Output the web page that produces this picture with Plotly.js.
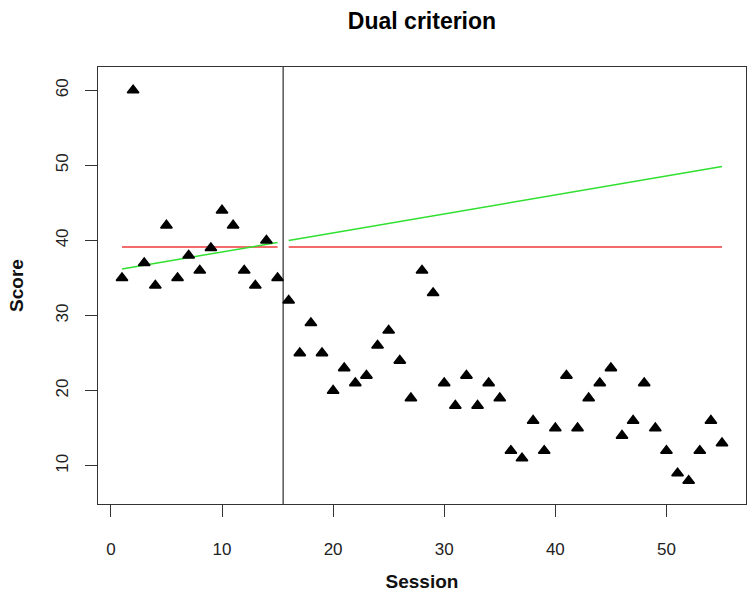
<!DOCTYPE html>
<html>
<head>
<meta charset="utf-8">
<script src="https://cdn.plot.ly/plotly-3.0.1.min.js"></script>
<style>
  html, body { margin: 0; padding: 0; background: #ffffff; }
  #chart { width: 748px; height: 596px; }
</style>
</head>
<body>
<div id="chart"></div>
<script>
// Session numbers and observed scores (baseline: sessions 1-15, treatment: 16-55)
const sessions = [1, 2, 3, 4, 5, 6, 7, 8, 9, 10, 11, 12, 13, 14, 15,
  16, 17, 18, 19, 20, 21, 22, 23, 24, 25, 26, 27, 28, 29, 30,
  31, 32, 33, 34, 35, 36, 37, 38, 39, 40, 41, 42, 43, 44, 45,
  46, 47, 48, 49, 50, 51, 52, 53, 54, 55];
const scores = [35, 60, 37, 34, 42, 35, 38, 36, 39, 44, 42, 36, 34, 40, 35,
  32, 25, 29, 25, 20, 23, 21, 22, 26, 28, 24, 19, 36, 33, 21,
  18, 22, 18, 21, 19, 12, 11, 16, 12, 15, 22, 15, 19, 21, 23,
  14, 16, 21, 15, 12, 9, 8, 12, 16, 13];

// Phase change between the last baseline and first treatment session
const phaseChange = 15.5;

// Baseline mean level, drawn across each phase
const meanBaseX = [1, 15];
const meanBaseY = [39.13, 39.13];
const meanTreatX = [16, 55];
const meanTreatY = [39.13, 39.13];

// Baseline trend line and its projection into the treatment phase
const trendBaseX = [1, 15];
const trendBaseY = [36.2, 39.73];
const trendTreatX = [16, 55];
const trendTreatY = [39.98, 49.85];

// Axis ticks
const xTicks = [0, 10, 20, 30, 40, 50];
const yTicks = [10, 20, 30, 40, 50, 60];

const FONT = '"Liberation Sans", Arial, Helvetica, sans-serif';

const lineTrace = (x, y, color) => ({
  x: x, y: y, type: 'scatter', mode: 'lines',
  line: { color: color, width: 1.5 },
  hoverinfo: 'skip', showlegend: false
});

const traces = [
  lineTrace(meanBaseX, meanBaseY, '#f03a3a'),
  lineTrace(meanTreatX, meanTreatY, '#f03a3a'),
  lineTrace(trendBaseX, trendBaseY, '#2fe02f'),
  lineTrace(trendTreatX, trendTreatY, '#2fe02f'),
  {
    x: sessions, y: scores, type: 'scatter', mode: 'markers',
    marker: { symbol: 'triangle-up', size: 10, color: '#000000',
              line: { color: '#000000', width: 1.6 } },
    showlegend: false
  }
];

const layout = {
  width: 748, height: 596,
  margin: { l: 98, r: 2, t: 67, b: 92 },
  paper_bgcolor: '#ffffff', plot_bgcolor: '#ffffff',
  font: { family: FONT, color: '#111111', size: 17 },
  showlegend: false,
  title: {
    text: '<b>Dual criterion</b>',
    font: { family: FONT, size: 23, color: '#000000' },
    x: 0.5, xref: 'paper', xanchor: 'center',
    y: 1 - 21 / 596, yref: 'container', yanchor: 'middle'
  },
  xaxis: {
    range: [-1.16, 57.16], tickmode: 'array', tickvals: xTicks,
    ticks: 'outside', ticklen: 12, tickwidth: 1, tickcolor: '#333333',
    showline: true, mirror: true, linecolor: '#333333', linewidth: 1,
    showgrid: false, zeroline: false,
    tickfont: { family: FONT, size: 17, color: '#222222' },
    ticklabelstandoff: 18,
    title: { text: '<b>Session</b>', font: { family: FONT, size: 19, color: '#111111' }, standoff: 16 }
  },
  yaxis: {
    range: [4.9, 63.1], tickmode: 'array', tickvals: yTicks,
    ticks: 'outside', ticklen: 12, tickwidth: 1, tickcolor: '#333333',
    showline: true, mirror: true, linecolor: '#333333', linewidth: 1,
    showgrid: false, zeroline: false, tickangle: -90,
    tickfont: { family: FONT, size: 17, color: '#222222' },
    ticklabelstandoff: 10,
    title: { text: '<b>Score</b>', font: { family: FONT, size: 19, color: '#111111' }, standoff: 24 }
  },
  shapes: [{
    type: 'line', xref: 'x', yref: 'paper',
    x0: phaseChange, x1: phaseChange, y0: 0, y1: 1,
    line: { color: '#000000', width: 1 }
  }]
};

Plotly.newPlot('chart', traces, layout, { displayModeBar: false, staticPlot: true });
</script>
</body>
</html>
